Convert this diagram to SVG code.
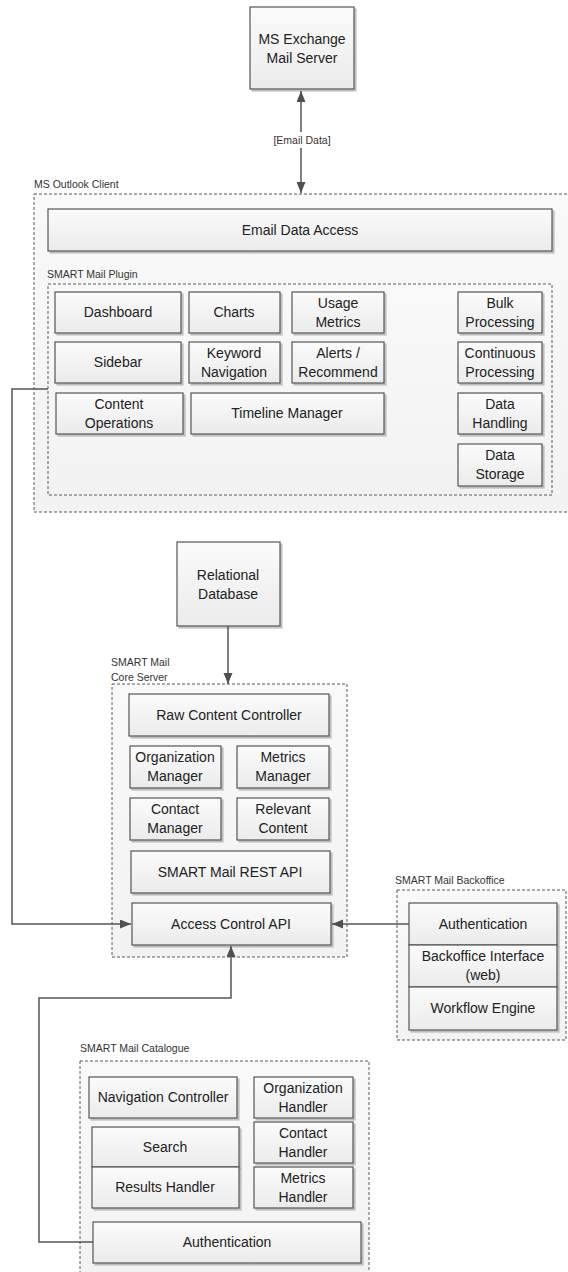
<svg xmlns="http://www.w3.org/2000/svg" width="568" height="1272" viewBox="0 0 568 1272">
<defs>
<linearGradient id="g" x1="0" y1="0" x2="0" y2="1"><stop offset="0" stop-color="#fbfbfb"/><stop offset="1" stop-color="#ebebeb"/></linearGradient>
<linearGradient id="gc" x1="0" y1="0" x2="0" y2="1"><stop offset="0" stop-color="#f9f9f9"/><stop offset="1" stop-color="#f2f2f2"/></linearGradient>
<filter id="sh" x="-10%" y="-10%" width="130%" height="140%"><feDropShadow dx="2" dy="2" stdDeviation="0.7" flood-color="#999999" flood-opacity="0.6"/></filter>
<marker id="ah" markerUnits="userSpaceOnUse" markerWidth="12" markerHeight="10" refX="11" refY="4.5" orient="auto-start-reverse"><path d="M0,0 L11,4.5 L0,9 z" fill="#505050"/></marker>
<style>
.box{fill:url(#g);stroke:#555;stroke-width:1.2;filter:url(#sh)}
.cont{fill:url(#gc);stroke:#5a5a5a;stroke-width:1;stroke-dasharray:3 2}
.t{font-family:"Liberation Sans",Arial,sans-serif;font-size:14px;fill:#222;text-anchor:middle}
.lbl{font-family:"Liberation Sans",Arial,sans-serif;font-size:10.5px;fill:#333}
.c{fill:none;stroke:#555;stroke-width:1.5}
</style>
</defs>

<g id="exchange">
<rect class="box" x="250" y="7" width="104" height="82"/>
<text class="t" x="302" y="44">MS Exchange</text>
<text class="t" x="302" y="63">Mail Server</text>
</g>

<g id="outlook">
<rect class="cont" x="34" y="194" width="550" height="318"/>
<text class="lbl" x="34" y="188">MS Outlook Client</text>
</g>
<g id="email-data-access">
<rect class="box" x="48" y="209" width="504" height="42"/>
<text class="t" x="300" y="235">Email Data Access</text>
</g>
<g id="plugin">
<rect class="cont" x="48" y="284" width="504" height="211"/>
<text class="lbl" x="47" y="278">SMART Mail Plugin</text>
</g>
<g id="dashboard"><rect class="box" x="55" y="292" width="126" height="41"/><text class="t" x="118" y="317">Dashboard</text></g>
<g id="charts"><rect class="box" x="189" y="292" width="91" height="41"/><text class="t" x="234" y="317">Charts</text></g>
<g id="usage-metrics"><rect class="box" x="292" y="292" width="92" height="41"/><text class="t" x="338" y="308">Usage</text><text class="t" x="338" y="327">Metrics</text></g>
<g id="bulk"><rect class="box" x="458" y="292" width="84" height="41"/><text class="t" x="500" y="308">Bulk</text><text class="t" x="500" y="327">Processing</text></g>
<g id="sidebar"><rect class="box" x="55" y="342" width="126" height="41"/><text class="t" x="118" y="367">Sidebar</text></g>
<g id="keyword"><rect class="box" x="189" y="342" width="91" height="41"/><text class="t" x="234" y="358">Keyword</text><text class="t" x="234" y="377">Navigation</text></g>
<g id="alerts"><rect class="box" x="292" y="342" width="92" height="41"/><text class="t" x="338" y="358">Alerts /</text><text class="t" x="338" y="377">Recommend</text></g>
<g id="continuous"><rect class="box" x="458" y="342" width="84" height="41"/><text class="t" x="500" y="358">Continuous</text><text class="t" x="500" y="377">Processing</text></g>
<g id="content-ops"><rect class="box" x="56" y="393" width="127" height="41"/><text class="t" x="119" y="409">Content</text><text class="t" x="119" y="428">Operations</text></g>
<g id="timeline"><rect class="box" x="191" y="393" width="193" height="41"/><text class="t" x="287" y="418">Timeline Manager</text></g>
<g id="data-handling"><rect class="box" x="458" y="393" width="84" height="41"/><text class="t" x="500" y="409">Data</text><text class="t" x="500" y="428">Handling</text></g>
<g id="data-storage"><rect class="box" x="458" y="444" width="84" height="42"/><text class="t" x="500" y="460">Data</text><text class="t" x="500" y="479">Storage</text></g>

<g id="relational-db">
<rect class="box" x="177" y="542" width="103" height="84"/>
<text class="t" x="228" y="580">Relational</text>
<text class="t" x="228" y="599">Database</text>
</g>

<g id="core-server">
<rect class="cont" x="112" y="684" width="235" height="273"/>
<text class="lbl" x="111" y="666">SMART Mail</text>
<text class="lbl" x="111" y="681">Core Server</text>
</g>
<g id="raw-content"><rect class="box" x="129" y="694" width="200" height="42"/><text class="t" x="229" y="720">Raw Content Controller</text></g>
<g id="org-manager"><rect class="box" x="130" y="746" width="91" height="42"/><text class="t" x="175" y="762">Organization</text><text class="t" x="175" y="781">Manager</text></g>
<g id="metrics-manager"><rect class="box" x="237" y="746" width="92" height="42"/><text class="t" x="283" y="762">Metrics</text><text class="t" x="283" y="781">Manager</text></g>
<g id="contact-manager"><rect class="box" x="130" y="798" width="91" height="42"/><text class="t" x="175" y="814">Contact</text><text class="t" x="175" y="833">Manager</text></g>
<g id="relevant-content"><rect class="box" x="237" y="798" width="92" height="42"/><text class="t" x="283" y="814">Relevant</text><text class="t" x="283" y="833">Content</text></g>
<g id="rest-api"><rect class="box" x="131" y="851" width="199" height="42"/><text class="t" x="230" y="877">SMART Mail REST API</text></g>
<g id="access-control"><rect class="box" x="132" y="903" width="199" height="42"/><text class="t" x="231" y="929">Access Control API</text></g>

<g id="backoffice">
<rect class="cont" x="397" y="890" width="169" height="150"/>
<text class="lbl" x="395" y="884">SMART Mail Backoffice</text>
</g>
<g id="bo-auth"><rect class="box" x="409" y="903" width="148" height="42"/><text class="t" x="483" y="929">Authentication</text></g>
<g id="bo-interface"><rect class="box" x="409" y="945" width="148" height="42"/><text class="t" x="483" y="961">Backoffice Interface</text><text class="t" x="483" y="980">(web)</text></g>
<g id="bo-workflow"><rect class="box" x="409" y="987" width="148" height="43"/><text class="t" x="483" y="1013">Workflow Engine</text></g>

<g id="catalogue">
<rect class="cont" x="80" y="1061" width="289" height="220"/>
<text class="lbl" x="80" y="1052">SMART Mail Catalogue</text>
</g>
<g id="nav-controller"><rect class="box" x="89" y="1077" width="148" height="41"/><text class="t" x="163" y="1102">Navigation Controller</text></g>
<g id="org-handler"><rect class="box" x="254" y="1077" width="99" height="41"/><text class="t" x="303" y="1093">Organization</text><text class="t" x="303" y="1112">Handler</text></g>
<g id="search"><rect class="box" x="92" y="1127" width="147" height="40"/><text class="t" x="165" y="1152">Search</text></g>
<g id="results-handler"><rect class="box" x="92" y="1167" width="147" height="41"/><text class="t" x="165" y="1192">Results Handler</text></g>
<g id="contact-handler"><rect class="box" x="254" y="1122" width="99" height="41"/><text class="t" x="303" y="1138">Contact</text><text class="t" x="303" y="1157">Handler</text></g>
<g id="metrics-handler"><rect class="box" x="254" y="1167" width="99" height="41"/><text class="t" x="303" y="1183">Metrics</text><text class="t" x="303" y="1202">Handler</text></g>
<g id="cat-auth"><rect class="box" x="93" y="1222" width="268" height="41"/><text class="t" x="227" y="1247">Authentication</text></g>

<g id="connectors">
<path class="c" d="M301,91 V193" marker-start="url(#ah)" marker-end="url(#ah)"/>
<rect x="270" y="132" width="64" height="16" fill="#ffffff"/>
<text class="lbl" x="302" y="144" text-anchor="middle">[Email Data]</text>
<path class="c" d="M228,626 V684" marker-end="url(#ah)"/>
<path class="c" d="M48,389 H12 V924 H131" marker-end="url(#ah)"/>
<path class="c" d="M409,924 H332" marker-end="url(#ah)"/>
<path class="c" d="M93,1242 H39 V998 H231 V946" marker-end="url(#ah)"/>
</g>
</svg>
